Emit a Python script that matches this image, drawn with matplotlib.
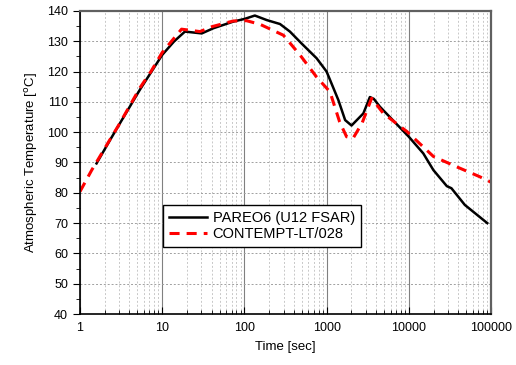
import matplotlib
matplotlib.use("Agg")
import matplotlib.pyplot as plt
from matplotlib.ticker import FixedLocator, NullFormatter, LogLocator

plt.rcParams["font.family"] = ["Liberation Sans", "DejaVu Sans"]

# PAREO6 (U12 FSAR)
pareo_t = [1.59, 2.32, 3.07, 5.35, 10, 14, 18.9, 30.3, 41.9, 73.3, 101, 134, 187, 271, 358, 495,
           756, 1000, 1390, 1680, 2010, 2800, 3360, 3750, 4450, 10000, 15000, 19900, 29000,
           33000, 48000, 90000]
pareo_T = [89.7, 97.4, 103.0, 114.0, 125.5, 130.0, 133.2, 132.6, 134.3, 136.5, 137.4, 138.5, 137.0,
           135.7, 133.2, 129.3, 124.4, 120.0, 110.6, 104.0, 102.2, 106.2, 111.6, 111.0, 108.4,
           98.5, 93.0, 87.5, 82.2, 81.5, 76.0, 70.0]

# CONTEMPT-LT/028
contempt_t = [1.0, 1.39, 2.32, 3.0, 5.35, 7.4, 10, 17.2, 28.8, 40, 73, 106, 155, 298, 474, 756,
              1100, 1440, 1750, 2100, 2700, 3530, 4900, 9500, 19900, 38000, 73000, 100000]
contempt_T = [80.4, 87.5, 97.6, 102.6, 114.6, 120.3, 126.3, 134.0, 133.2, 134.8, 136.7, 136.8,
              135.6, 132.0, 125.5, 118.2, 113.3, 103.4, 98.5, 98.0, 103.0, 111.2, 106.2, 100.2,
              92.0, 88.6, 85.3, 83.5]

x_ticks = [1, 10, 100, 1000, 10000, 100000]
x_labels = ["1", "10", "100", "1000", "10000", "100000"]
y_ticks = list(range(40, 141, 10))

fig = plt.figure(figsize=(5.16, 3.65), dpi=100)
ax = fig.add_axes([0.155, 0.1397, 0.7966, 0.8302])

ax.plot(pareo_t, pareo_T, color="black", lw=1.8, label="PAREO6 (U12 FSAR)")
ax.plot(contempt_t, contempt_T, color="red", lw=2.2, dashes=(3.3, 2.3),
        label="CONTEMPT-LT/028")

ax.set_xscale("log")
ax.set_xlim(1, 100000)
ax.set_ylim(40, 140)
ax.set_xticks(x_ticks)
ax.set_xticklabels(x_labels)
ax.xaxis.set_minor_locator(LogLocator(base=10, subs=range(2, 10), numticks=20))
ax.xaxis.set_minor_formatter(NullFormatter())
ax.set_yticks(y_ticks)
ax.yaxis.set_minor_locator(FixedLocator(range(45, 140, 10)))

ax.grid(True, which="major", axis="x", color="#808080", lw=0.8, ls="-")
ax.grid(True, which="minor", axis="x", color="#c8c8c8", lw=0.7, ls=(0, (2, 2)))
ax.grid(True, which="major", axis="y", color="#a0a0a0", lw=0.7, ls=(0, (2, 2)))
ax.set_axisbelow(True)

ax.tick_params(axis="x", which="both", direction="in", labelsize=9, pad=6)
ax.tick_params(axis="x", which="major", length=5)
ax.tick_params(axis="x", which="minor", length=3)
ax.tick_params(axis="y", which="both", direction="out", labelsize=9)
ax.tick_params(axis="y", which="major", length=5)
ax.tick_params(axis="y", which="minor", length=3)

for s in ("left", "bottom"):
    ax.spines[s].set_linewidth(1.2)
for s in ("top", "right"):
    ax.spines[s].set_color("#606060")
    ax.spines[s].set_linewidth(1.6)

ax.set_xlabel("Time [sec]", fontsize=9.5, labelpad=5)
ax.set_ylabel("Atmospheric Temperature [$^{\\rm o}$C]", fontsize=9.5, labelpad=5)

leg = ax.legend(loc="upper left", bbox_to_anchor=(0.202, 0.36), borderaxespad=0,
                fontsize=10.5, frameon=True, fancybox=False, edgecolor="black",
                framealpha=1, handlelength=2.6, borderpad=0.4, labelspacing=0.15,
                handletextpad=0.4)
leg.get_frame().set_linewidth(1.0)

fig.savefig("out.png", dpi=100)
